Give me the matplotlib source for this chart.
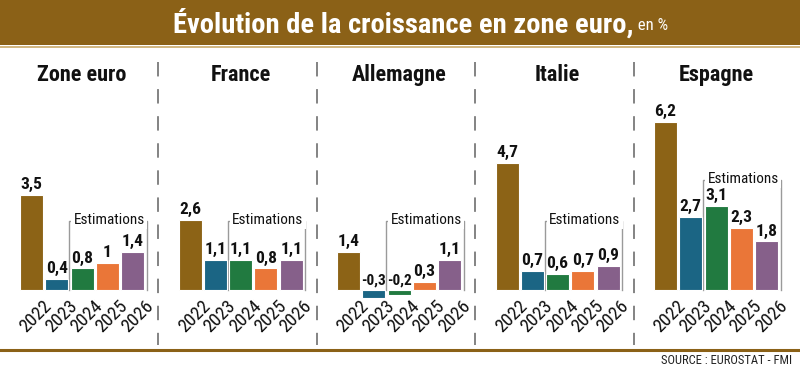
import matplotlib
matplotlib.use("Agg")
import matplotlib.pyplot as plt
from matplotlib import font_manager as fm
from matplotlib.patches import Rectangle
from matplotlib.lines import Line2D

# ---------------- data ----------------
countries = ["Zone euro", "France", "Allemagne", "Italie", "Espagne"]
years = ["2022", "2023", "2024", "2025", "2026"]
zone_euro = [3.5, 0.4, 0.8, 1.0, 1.4]
france = [2.6, 1.1, 1.1, 0.8, 1.1]
allemagne = [1.4, -0.3, -0.2, 0.3, 1.1]
italie = [4.7, 0.7, 0.6, 0.7, 0.9]
espagne = [6.2, 2.7, 3.1, 2.3, 1.8]
series = [zone_euro, france, allemagne, italie, espagne]
year_colors = ["#8C6316", "#1B6584", "#217A40", "#EA7638", "#86608A"]
estim_label = "Estimations"
title_main = "Évolution de la croissance en zone euro,"
title_unit = " en %"
source = "SOURCE : EUROSTAT - FMI"

# ---------------- fonts ----------------
def find_font(patterns):
    for pat in patterns:
        for f in fm.fontManager.ttflist:
            if pat.lower() in f.fname.lower().replace(" ", ""):
                return f.fname
    return None

bold_file = find_font(["RobotoCondensed-Bold.", "OpenSansCondensed-Bold", "OpenSans_Condensed-Bold",
                       "DejaVuSansCondensed-Bold.", "LiberationSansNarrow-Bold."])
reg_file = find_font(["RobotoCondensed-Regular.", "OpenSansCondensed-Regular", "OpenSans_Condensed-Regular",
                      "DejaVuSansCondensed.", "LiberationSansNarrow-Regular."])

def fp_bold(size):
    if bold_file:
        return fm.FontProperties(fname=bold_file, size=size)
    return fm.FontProperties(family="DejaVu Sans", weight="bold", size=size)

def fp_reg(size):
    if reg_file:
        return fm.FontProperties(fname=reg_file, size=size)
    return fm.FontProperties(family="DejaVu Sans", size=size)

# ---------------- figure ----------------
W, H = 800, 367
fig = plt.figure(figsize=(W / 100, H / 100), dpi=100)
fig.patch.set_facecolor("white")

def fx(px):
    return px / W

def fy(py):
    return 1 - py / H

# banner
fig.patches.append(Rectangle((0, fy(45)), 1, 45 / H, transform=fig.transFigure,
                             facecolor="#8B6117", edgecolor="none", zorder=0))
fig.lines.append(Line2D([0, 1], [fy(47), fy(47)], transform=fig.transFigure,
                        color="#C9A96A", lw=1.2))
fig.lines.append(Line2D([0, 1], [fy(350), fy(350)], transform=fig.transFigure,
                        color="#8B6117", lw=2.2))

t1 = fig.text(fx(173), fy(23), title_main, color="white", fontproperties=fp_bold(20.5),
              ha="left", va="center")
fig.canvas.draw()
bb = t1.get_window_extent()
fig.text(bb.x1 / W, fy(25), title_unit, color="white", fontproperties=fp_reg(12),
         ha="left", va="center")

fig.text(fx(792), fy(360), source, color="#222222", fontproperties=fp_reg(9),
         ha="right", va="center")

# panels
panel_step = 158.5
px_per_unit_x = 25.3
px_per_unit_y = 27.1
ax_top, ax_bot = 55, 345
baseline = 290
bar_w = 23 / px_per_unit_x

for i, (name, vals) in enumerate(zip(countries, series)):
    x0 = panel_step * i
    ax = fig.add_axes([fx(x0), fy(ax_bot), fx(panel_step), (ax_bot - ax_top) / H])
    ax.set_axis_off()
    left_units = -(20 + 11.5) / px_per_unit_x
    ax.set_xlim(left_units, left_units + panel_step / px_per_unit_x)
    ax.set_ylim(-(ax_bot - baseline) / px_per_unit_y, (baseline - ax_top) / px_per_unit_y)

    xs = list(range(len(years)))
    ax.bar(xs, vals, width=bar_w, color=year_colors, edgecolor="white", linewidth=0.8, zorder=3)

    for x, v in zip(xs, vals):
        lbl = f"{v:g}".replace(".", ",")
        ytxt = max(v, 0) + 0.1
        size = 12.5 if v >= 0 else 11
        ax.text(x, ytxt, lbl, ha="center", va="bottom", fontproperties=fp_bold(size),
                color="#111111", zorder=5)
        ax.text(x + 0.45, -0.25, years[x], ha="right", va="top", rotation=45,
                rotation_mode="anchor", fontproperties=fp_reg(13.5), color="#111111")

    # panel title
    ax.text(2, (baseline - 75) / px_per_unit_y, name, ha="center", va="center",
            fontproperties=fp_bold(16), color="#111111")

    # estimations bracket
    est = vals[2:]
    lvl = max(2.55, max(est) + 0.95)
    xl = 2 - bar_w / 2 - 0.06
    xr = 4 + bar_w / 2 + 0.1
    ax.plot([xl, xl, xr, xr], [0, lvl, lvl, 0], color="#9A9A9A", lw=1.0, zorder=1)
    ax.text((xl + xr) / 2 + 0.05, lvl + 0.05, estim_label, ha="center", va="center",
            fontproperties=fp_reg(11), color="#111111", zorder=4,
            bbox=dict(boxstyle="square,pad=0.15", facecolor="white", edgecolor="none"))

    # dashed separator
    if i < len(countries) - 1:
        xs_sep = x0 + panel_step - 0.5
        fig.lines.append(Line2D([fx(xs_sep), fx(xs_sep)], [fy(62), fy(345)],
                                transform=fig.transFigure, color="#7A7A7A", lw=1.3,
                                dashes=(8, 7)))

fig.savefig("out.png", dpi=100, facecolor="white")
